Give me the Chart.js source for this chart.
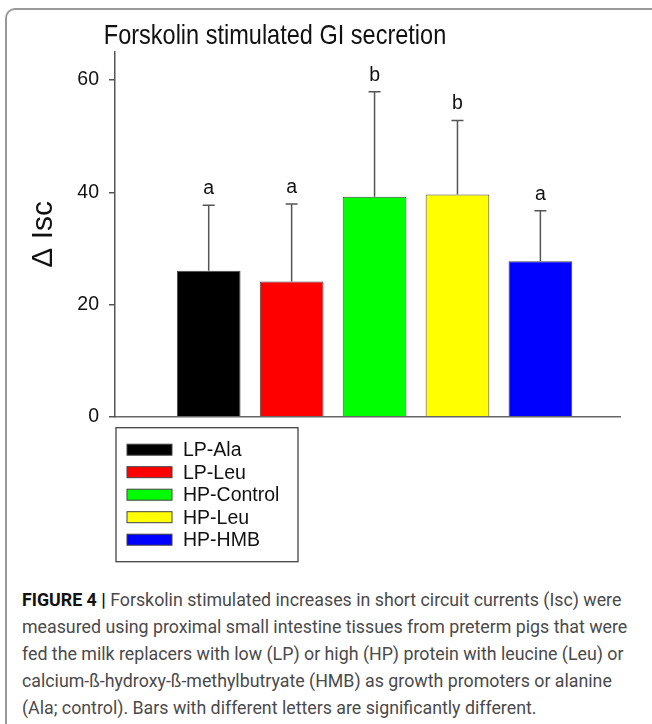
<!DOCTYPE html>
<html>
<head>
<meta charset="utf-8">
<script src="https://cdn.jsdelivr.net/npm/chart.js@4.4.0/dist/chart.umd.min.js"></script>
<style>
  html, body { margin: 0; padding: 0; background: #fff; width: 652px; height: 724px; overflow: hidden; }
  body { position: relative; font-family: 'Liberation Sans', Arial, sans-serif; }
  #frame {
    position: absolute; left: 5px; top: 8px; width: 720px; height: 800px;
    border: 2px solid #999; border-radius: 10px; box-sizing: border-box;
  }
  #title {
    position: absolute; left: 0; top: 17px; width: 550px; text-align: center;
    font-size: 28px; line-height: 36px; color: #111; white-space: nowrap;
    transform: scaleX(0.84);
  }
  #wrap { position: absolute; left: 0; top: 0; width: 652px; height: 580px; }
  #caption {
    position: absolute; left: 22px; top: 586px; font-family: Roboto, 'Liberation Sans', sans-serif;
    font-size: 17.8px; line-height: 27px; color: #4a4a4a; white-space: nowrap;
  }
  #caption b { color: #111; }
</style>
</head>
<body>
<div id="frame"></div>
<div id="wrap"><canvas id="chart" width="652" height="580"></canvas></div>
<div id="title">Forskolin stimulated GI secretion</div>
<div id="caption">
  <b>FIGURE 4 |</b> Forskolin stimulated increases in short circuit currents (Isc) were<br>
  measured using proximal small intestine tissues from preterm pigs that were<br>
  fed the milk replacers with low (LP) or high (HP) protein with leucine (Leu) or<br>
  calcium-ß-hydroxy-ß-methylbutryate (HMB) as growth promoters or alanine<br>
  (Ala; control). Bars with different letters are significantly different.
</div>
<script>
// data
const groups = ['LP-Ala', 'LP-Leu', 'HP-Control', 'HP-Leu', 'HP-HMB'];
const means = [26.0, 24.1, 39.2, 39.6, 27.7];
const upperErr = [37.7, 37.9, 57.9, 52.8, 36.7];
const letters = ['a', 'a', 'b', 'b', 'a'];
const barColors = ['#000000', '#ff0000', '#00ff00', '#ffff00', '#0000ff'];
const yTicks = [0, 20, 40, 60];

const FONT = "'Liberation Sans', Arial, sans-serif";

// error bars + significance letters
const errorBarPlugin = {
  id: 'errorBars',
  afterDatasetsDraw(chart) {
    const ctx = chart.ctx;
    const y = chart.scales.y;
    const bars = chart.getDatasetMeta(0).data;
    ctx.save();
    bars.forEach((bar, i) => {
      const top = y.getPixelForValue(means[i]);
      const hi = y.getPixelForValue(upperErr[i]);
      ctx.strokeStyle = '#555';
      ctx.lineWidth = 1.5;
      ctx.beginPath();
      ctx.moveTo(bar.x, top);
      ctx.lineTo(bar.x, hi);
      ctx.moveTo(bar.x - 6, hi);
      ctx.lineTo(bar.x + 6, hi);
      ctx.stroke();
      ctx.fillStyle = '#111';
      ctx.font = '19.5px ' + FONT;
      ctx.textAlign = 'center';
      ctx.textBaseline = 'alphabetic';
      ctx.fillText(letters[i], bar.x, hi - 11);
    });
    ctx.restore();
  }
};

// boxed legend under the axis
const boxLegendPlugin = {
  id: 'boxLegend',
  afterDraw(chart) {
    const ctx = chart.ctx;
    const ca = chart.chartArea;
    const left = ca.left + 1, top = ca.bottom + 11;
    ctx.save();
    ctx.strokeStyle = '#444';
    ctx.lineWidth = 1.3;
    ctx.strokeRect(left, top, 182, 134);
    ctx.font = '19.5px ' + FONT;
    ctx.textAlign = 'left';
    ctx.textBaseline = 'middle';
    groups.forEach((g, i) => {
      const cy = top + 22 + i * 22.5;
      ctx.fillStyle = barColors[i];
      ctx.fillRect(left + 11, cy - 5.5, 45, 11);
      ctx.strokeStyle = '#444';
      ctx.lineWidth = 1;
      ctx.strokeRect(left + 11, cy - 5.5, 45, 11);
      ctx.fillStyle = '#111';
      ctx.fillText(g, left + 67, cy + 1);
    });
    ctx.restore();
  }
};

new Chart(document.getElementById('chart'), {
  type: 'bar',
  data: {
    labels: groups,
    datasets: [{
      data: means.map((v, i) => ({ x: i + 1, y: v })),
      backgroundColor: barColors,
      borderColor: '#444',
      borderWidth: 1,
      barPercentage: 0.8,
      categoryPercentage: 1
    }]
  },
  options: {
    responsive: false,
    animation: false,
    layout: { padding: { left: 20, top: 52, right: 32, bottom: 0 } },
    plugins: {
      legend: { display: false },
      tooltip: { enabled: false }
    },
    scales: {
      x: {
        type: 'linear',
        offset: false,
        min: -0.13,
        max: 5.96,
        ticks: { display: false },
        grid: { display: false, drawTicks: false, offset: false },
        border: { display: true, color: '#666', width: 1.5 },
        afterFit(s) { s.height = 163.3; }
      },
      y: {
        min: 0,
        max: 65,
        afterBuildTicks(s) { s.ticks = yTicks.map(v => ({ value: v })); },
        ticks: { color: '#111', font: { family: FONT, size: 19.5 }, padding: 10 },
        grid: { drawOnChartArea: false, drawTicks: true, tickLength: 6, color: '#555', lineWidth: 1.5 },
        border: { display: true, color: '#555', width: 1.5 },
        title: {
          display: true,
          text: '\u0394 Isc',
          color: '#111',
          font: { family: FONT, size: 30 },
          padding: { top: 6, bottom: 0 }
        },
        afterFit(s) { s.width = 95; }
      }
    }
  },
  plugins: [errorBarPlugin, boxLegendPlugin]
});
</script>
</body>
</html>
